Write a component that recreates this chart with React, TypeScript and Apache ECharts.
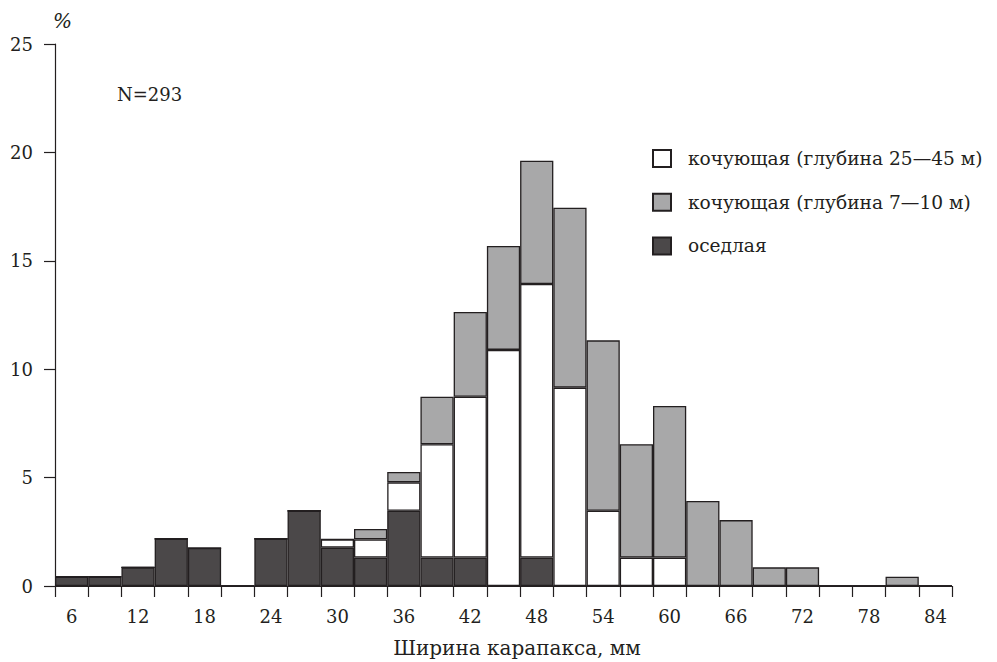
import React, { useEffect, useRef } from "react";
import * as echarts from "echarts";

// Bin centres, mm (bins 3 mm wide)
const categories = [
  "6", "9", "12", "15", "18", "21", "24", "27", "30", "33", "36", "39", "42", "45",
  "48", "51", "54", "57", "60", "63", "66", "69", "72", "75", "78", "81", "84",
];

// оседлая (bottom of stack), %
const sedentary = [
  0.43, 0.43, 0.86, 2.18, 1.75, 0, 2.18, 3.47, 1.77, 1.31, 3.47, 1.31, 1.31, 0,
  1.31, 0, 0, 0, 0, 0, 0, 0, 0, 0, 0, 0, 0,
];

// кочующая (глубина 25–45 м), %
const nomadDeep = [
  0, 0, 0, 0, 0, 0, 0, 0, 0.38, 0.84, 1.31, 5.23, 7.42, 10.89,
  12.62, 9.15, 3.47, 1.31, 1.31, 0, 0, 0, 0, 0, 0, 0, 0,
];

// кочующая (глубина 7–10 м), %
const nomadShallow = [
  0, 0, 0, 0, 0, 0, 0, 0, 0, 0.48, 0.48, 2.19, 3.91, 4.79,
  5.69, 8.3, 7.86, 5.23, 6.99, 3.92, 3.04, 0.86, 0.86, 0, 0, 0.43, 0,
];

const seriesNames = [
  "кочующая (глубина 25—45 м)",
  "кочующая (глубина 7—10 м)",
  "оседлая",
];

const FONT = "'DejaVu Serif', 'Liberation Serif', serif";
const INK = "#231f20";

export default function App() {
  const ref = useRef<HTMLDivElement>(null);

  useEffect(() => {
    if (!ref.current) return;
    const chart = echarts.init(ref.current, undefined, { renderer: "svg" });
    const barStyle = (color: string) => ({
      color,
      borderColor: INK,
      borderWidth: 1.3,
    });
    chart.setOption({
      animation: false,
      backgroundColor: "#ffffff",
      textStyle: { fontFamily: FONT, color: INK },
      grid: { left: 55, right: 45, top: 44, bottom: 76, containLabel: false },
      legend: {
        orient: "vertical",
        left: 647,
        top: 144,
        itemWidth: 18,
        itemHeight: 17,
        itemGap: 24.7,
        icon: "rect",
        selectedMode: false,
        data: seriesNames,
        textStyle: { fontFamily: FONT, fontSize: 18.6, color: INK, padding: [0, 0, 0, 12] },
      },
      xAxis: {
        type: "category",
        data: categories,
        boundaryGap: true,
        axisLine: { lineStyle: { color: INK, width: 1.2 } },
        axisTick: { show: true, interval: 0, length: 11, lineStyle: { color: INK, width: 1.2 } },
        axisLabel: { interval: 1, margin: 21, fontFamily: FONT, fontSize: 18, color: INK },
        splitLine: { show: false },
      },
      yAxis: {
        type: "value",
        min: 0,
        max: 25,
        interval: 5,
        axisLine: { show: true, lineStyle: { color: INK, width: 1.2 } },
        axisTick: { show: true, length: 11, lineStyle: { color: INK, width: 1.2 } },
        axisLabel: { margin: 22, fontFamily: FONT, fontSize: 18, color: INK },
        splitLine: { show: false },
      },
      graphic: [
        {
          type: "text",
          left: 53,
          top: 11,
          style: { text: "%", font: `italic 20px ${FONT}`, fill: INK },
        },
        {
          type: "text",
          left: 117,
          top: 85,
          style: { text: "N=293", font: `18px ${FONT}`, fill: INK },
        },
        {
          type: "text",
          x: 517,
          y: 638,
          style: {
            text: "Ширина карапакса, мм",
            font: `20px ${FONT}`,
            fill: INK,
            align: "center",
            verticalAlign: "top",
          },
        },
      ],
      series: [
        {
          name: seriesNames[2],
          type: "bar",
          stack: "total",
          data: sedentary,
          barCategoryGap: "0%",
          itemStyle: barStyle("#4b4849"),
        },
        {
          name: seriesNames[0],
          type: "bar",
          stack: "total",
          data: nomadDeep,
          barCategoryGap: "0%",
          itemStyle: barStyle("#ffffff"),
        },
        {
          name: seriesNames[1],
          type: "bar",
          stack: "total",
          data: nomadShallow,
          barCategoryGap: "0%",
          itemStyle: barStyle("#a8a8a9"),
        },
      ],
    });
    return () => chart.dispose();
  }, []);

  return (
    <div
      ref={ref}
      style={{ position: "absolute", left: 0, top: 0, width: 997, height: 662, background: "#fff" }}
    />
  );
}
